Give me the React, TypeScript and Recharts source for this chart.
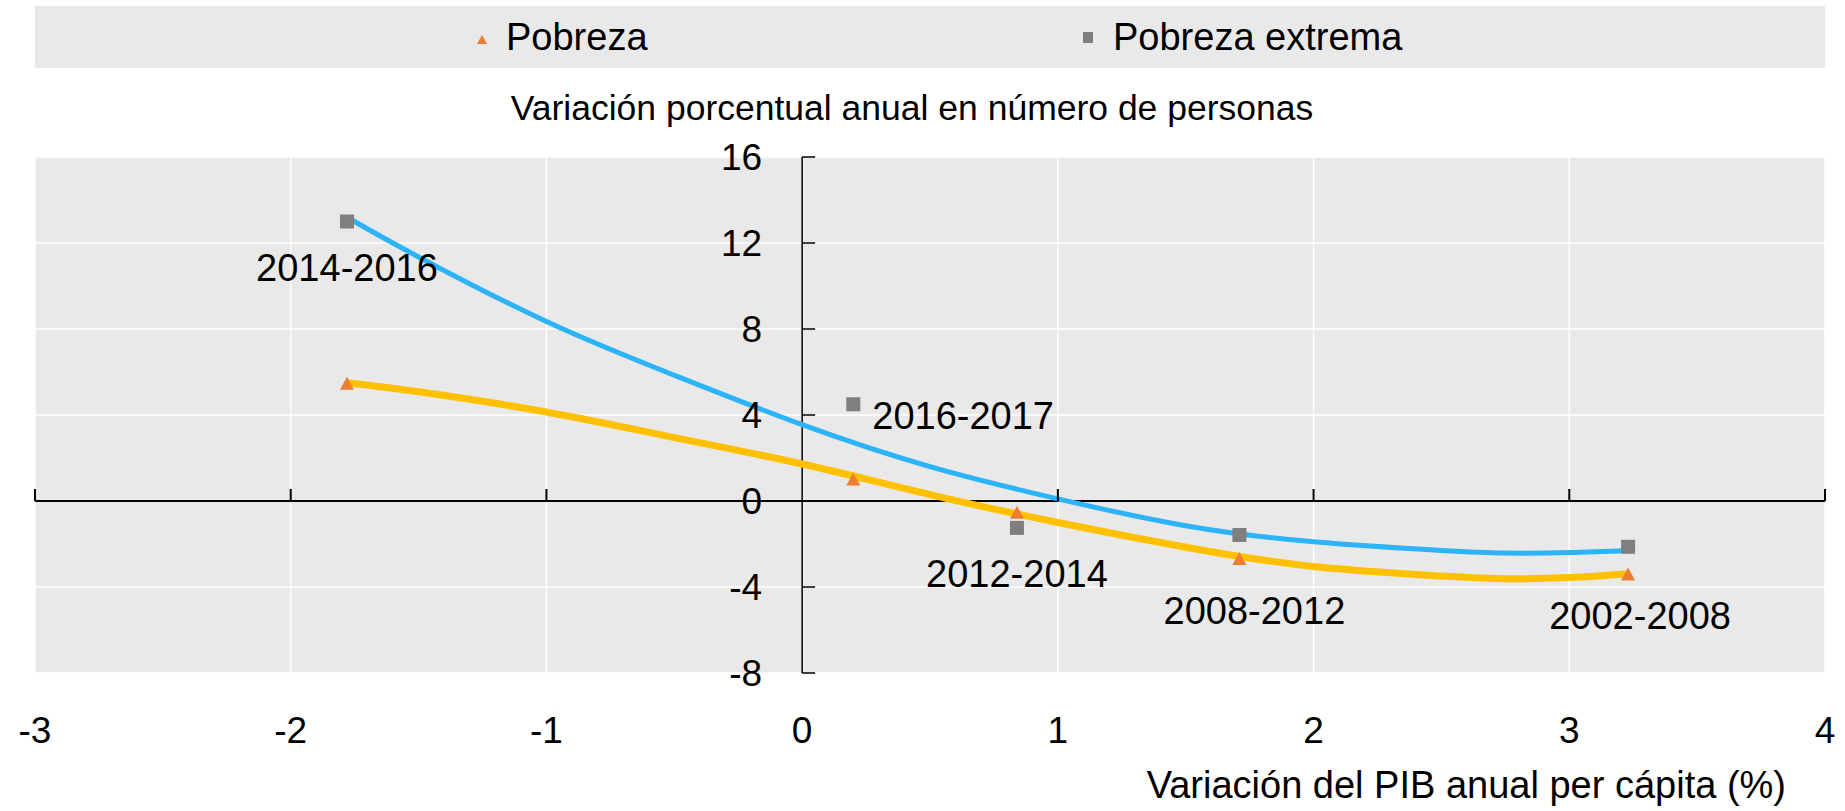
import {
  ComposedChart,
  Scatter,
  Line,
  XAxis,
  YAxis,
  CartesianGrid,
  ReferenceLine,
} from "recharts";

// periods, GDP per capita growth (x) and yearly change in number of people (y)
const periods = ["2014-2016", "2016-2017", "2012-2014", "2008-2012", "2002-2008"];
const gdpGrowth = [-1.78, 0.2, 0.84, 1.71, 3.23];
const povertyChange = [5.45, 1.0, -0.55, -2.7, -3.42];
const extremePovertyChange = [13.0, 4.5, -1.25, -1.58, -2.13];

// trend lines
const trendX = [-1.78, -1.5, -1, -0.5, 0, 0.5, 1, 1.5, 2, 2.5, 2.75, 3, 3.23];
const povertyTrend = [5.5, 5.08, 4.14, 2.95, 1.72, 0.3, -1.0, -2.15, -3.05, -3.49, -3.62, -3.56, -3.38];
const extremeTrend = [13.2, 11.35, 8.35, 5.85, 3.55, 1.6, 0.1, -1.15, -1.9, -2.3, -2.42, -2.4, -2.3];

const xTicks = [-3, -2, -1, 0, 1, 2, 3, 4];
const yTicks = [-8, -4, 0, 4, 8, 12, 16];

const FONT = "'Liberation Sans', Arial, sans-serif";
const ORANGE = "#ED7D31";
const GRAY = "#7F7F7F";
const BLUE = "#2CB3F8";
const GOLD = "#FFC000";
const PANEL = "#E9E9E9";

// where each period label sits relative to its square
const labelPlace = [
  { dx: 0, dy: 46, anchor: "middle" },
  { dx: 19, dy: 11, anchor: "start" },
  { dx: 0, dy: 45, anchor: "middle" },
  { dx: 15, dy: 75, anchor: "middle" },
  { dx: 12, dy: 69, anchor: "middle" },
];

const povertyPts = gdpGrowth.map((x, i) => ({ x, y: povertyChange[i], period: periods[i] }));
const extremePts = gdpGrowth.map((x, i) => ({ x, y: extremePovertyChange[i], period: periods[i] }));
const povertyLine = trendX.map((x, i) => ({ x, y: povertyTrend[i] }));
const extremeLine = trendX.map((x, i) => ({ x, y: extremeTrend[i] }));
const yAxisMarks = yTicks.map((y) => ({ x: 0, y }));
const xAxisMarks = xTicks.filter((x) => x !== 0).map((x) => ({ x, y: 0 }));

const Triangle = (p: any) => (
  <polygon
    points={`${p.cx},${p.cy - 7} ${p.cx + 7},${p.cy + 6} ${p.cx - 7},${p.cy + 6}`}
    fill={ORANGE}
  />
);

const SquareWithLabel = (p: any) => {
  const i = periods.indexOf(p.payload.period);
  const pl = labelPlace[i];
  return (
    <g>
      <rect x={p.cx - 7} y={p.cy - 7} width={14} height={14} fill={GRAY} />
      <text
        x={p.cx + pl.dx}
        y={p.cy + pl.dy}
        dy="0.36em"
        textAnchor={pl.anchor}
        fontSize={38}
        fontFamily={FONT}
        fill="#000"
      >
        {p.payload.period}
      </text>
    </g>
  );
};

const YTickMark = (p: any) => (
  <g>
    <line x1={p.cx} y1={p.cy} x2={p.cx + 13} y2={p.cy} stroke="#000" strokeWidth={1.5} />
    <text
      x={p.cx - 40}
      y={p.cy}
      dy="0.36em"
      textAnchor="end"
      fontSize={37}
      fontFamily={FONT}
      fill="#000"
    >
      {p.payload.y}
    </text>
  </g>
);

const XTickMark = (p: any) => (
  <line x1={p.cx} y1={p.cy} x2={p.cx} y2={p.cy - 12} stroke="#000" strokeWidth={2} />
);

export default function App() {
  return (
    <div
      style={{
        position: "absolute",
        left: 0,
        top: 0,
        width: 1845,
        height: 811,
        background: "#fff",
      }}
    >
      <svg
        width={1845}
        height={150}
        style={{ position: "absolute", left: 0, top: 0 }}
      >
        <rect x={35} y={6} width={1790} height={62} fill={PANEL} />
        <polygon points="482,35 487,44 477,44" fill={ORANGE} />
        <text x={506} y={50} fontSize={38} fontFamily={FONT} fill="#000">
          Pobreza
        </text>
        <rect x={1083} y={32} width={10} height={11} fill={GRAY} />
        <text x={1113} y={50} fontSize={38} fontFamily={FONT} fill="#000">
          Pobreza extrema
        </text>
        <text
          x={912}
          y={120}
          textAnchor="middle"
          fontSize={35.5}
          fontFamily={FONT}
          fill="#000"
        >
          Variación porcentual anual en número de personas
        </text>
      </svg>
      <div style={{ position: "absolute", left: 0, top: 0 }}>
        <ComposedChart
          width={1845}
          height={811}
          margin={{ top: 157, right: 20, bottom: 0, left: 35 }}
        >
          <CartesianGrid fill={PANEL} stroke="#fff" strokeWidth={1.5} />
          <XAxis
            type="number"
            dataKey="x"
            domain={[-3, 4]}
            ticks={xTicks}
            height={138}
            axisLine={false}
            tickLine={false}
            tickMargin={38}
            tick={{ fontSize: 37, fill: "#000", fontFamily: FONT }}
            label={{
              content: (props: any) => {
                const vb = props.viewBox;
                return (
                  <text
                    x={vb.x + vb.width - 39}
                    y={vb.y + 125}
                    textAnchor="end"
                    fontSize={38}
                    fontFamily={FONT}
                    fill="#000"
                  >
                    Variación del PIB anual per cápita (%)
                  </text>
                );
              },
            }}
          />
          <YAxis
            type="number"
            dataKey="y"
            domain={[-8, 16]}
            ticks={yTicks}
            hide
          />
          <ReferenceLine y={0} stroke="#000" strokeWidth={2} />
          <ReferenceLine x={0} stroke="#000" strokeWidth={1.5} />
          <Scatter data={yAxisMarks} shape={YTickMark} isAnimationActive={false} />
          <Scatter data={xAxisMarks} shape={XTickMark} isAnimationActive={false} />
          <Scatter
            name="Pobreza"
            data={povertyPts}
            shape={Triangle}
            isAnimationActive={false}
          />
          <Scatter
            name="Pobreza extrema"
            data={extremePts}
            shape={SquareWithLabel}
            isAnimationActive={false}
          />
          <Line
            data={povertyLine}
            dataKey="y"
            type="natural"
            stroke={GOLD}
            strokeWidth={7}
            dot={false}
            activeDot={false}
            isAnimationActive={false}
          />
          <Line
            data={extremeLine}
            dataKey="y"
            type="natural"
            stroke={BLUE}
            strokeWidth={5}
            dot={false}
            activeDot={false}
            isAnimationActive={false}
          />
        </ComposedChart>
      </div>
    </div>
  );
}
